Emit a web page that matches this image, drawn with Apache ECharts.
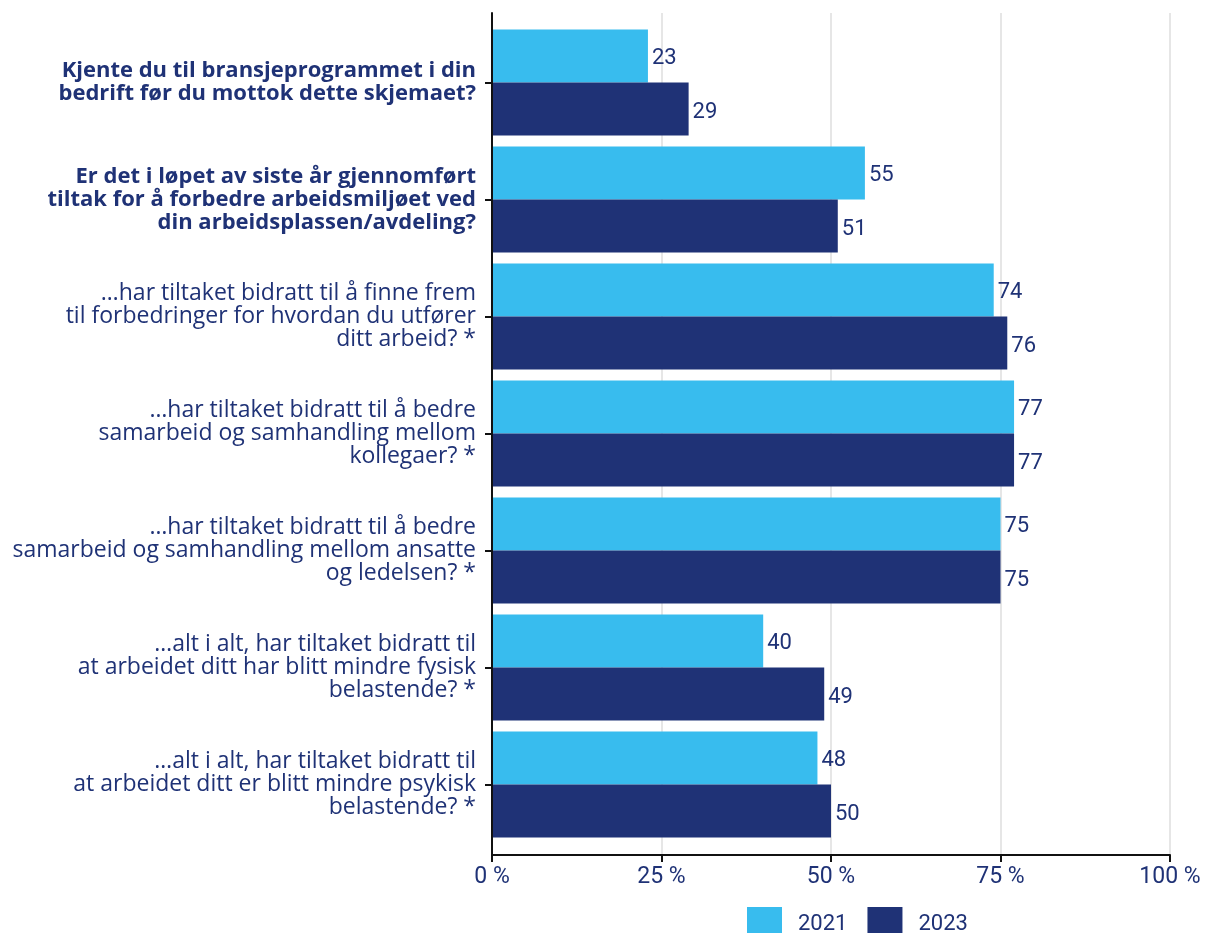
<!DOCTYPE html>
<html>
<head>
<meta charset="utf-8">
<script src="https://cdn.jsdelivr.net/npm/echarts@6/dist/echarts.min.js"></script>
<style>
  html, body { margin: 0; padding: 0; background: #fff; }
  #chart { width: 1205px; height: 933px; }
</style>
</head>
<body>
<div id="chart"></div>
<script>
const questions = [
  'Kjente du til bransjeprogrammet i din\nbedrift før du mottok dette skjemaet?',
  'Er det i løpet av siste år gjennomført\ntiltak for å forbedre arbeidsmiljøet ved\ndin arbeidsplassen/avdeling?',
  '…har tiltaket bidratt til å finne frem\ntil forbedringer for hvordan du utfører\nditt arbeid? *',
  '…har tiltaket bidratt til å bedre\nsamarbeid og samhandling mellom\nkollegaer? *',
  '…har tiltaket bidratt til å bedre\nsamarbeid og samhandling mellom ansatte\nog ledelsen? *',
  '…alt i alt, har tiltaket bidratt til\nat arbeidet ditt har blitt mindre fysisk\nbelastende? *',
  '…alt i alt, har tiltaket bidratt til\nat arbeidet ditt er blitt mindre psykisk\nbelastende? *'
]
// first two questions are printed in bold
const boldCount = 2
const values2021 = [23, 55, 74, 77, 75, 40, 48]
const values2023 = [29, 51, 76, 77, 75, 49, 50]
const years = ['2021', '2023']

const NAVY = '#1f3276'
const LIGHT = '#38bcee'
const FONT = '"Open Sans", sans-serif'
const NUM = 'Roboto, sans-serif'

const chart = echarts.init(document.getElementById('chart'))

const valueLabel = {
  show: true,
  position: 'right',
  distance: 4,
  offset: [0, 3],
  color: NAVY,
  fontFamily: NUM,
  fontSize: 22
}

const option = {
  animation: false,
  textStyle: { fontFamily: FONT, color: NAVY },
  legend: {
    data: years,
    left: 742,
    top: 902,
    itemWidth: 35,
    itemHeight: 35,
    itemGap: 20,
    icon: 'rect',
    textStyle: { color: NAVY, fontSize: 22, fontFamily: NUM, padding: [0, 0, 0, 11] }
  },
  grid: [
    // bars
    { left: 492, right: 35, top: 24, height: 819 },
    // frame: axis lines and grid lines
    { left: 492, right: 35, top: 13, height: 842 }
  ],
  xAxis: [
    { gridIndex: 0, type: 'value', min: 0, max: 100, show: false },
    {
      gridIndex: 1,
      type: 'value',
      min: 0,
      max: 100,
      interval: 25,
      axisLine: { show: true, lineStyle: { color: '#111', width: 2 } },
      axisTick: { show: true, length: 7, lineStyle: { color: '#111', width: 2 } },
      axisLabel: { formatter: '{value} %', color: NAVY, fontSize: 23, fontFamily: NUM, margin: 11 },
      splitLine: { show: true, lineStyle: { color: '#e6e6e6', width: 2 } }
    }
  ],
  yAxis: [
    {
      gridIndex: 0,
      type: 'category',
      inverse: true,
      data: questions,
      axisLine: { show: false },
      axisTick: { show: true, alignWithLabel: true, length: 7, lineStyle: { color: '#111', width: 2 } },
      axisLabel: {
        margin: 16,
        lineHeight: 23,
        formatter: function (value, index) {
          const style = index < boldCount ? 'b' : 'n'
          return value.split('\n').map(l => '{' + style + '|' + l + '}').join('\n')
        },
        rich: {
          b: { fontSize: 22, fontWeight: 'bold', fontFamily: FONT, color: NAVY, lineHeight: 23, align: 'right' },
          n: { fontSize: 23, fontFamily: FONT, color: NAVY, lineHeight: 23, align: 'right' }
        }
      }
    },
    {
      gridIndex: 1,
      type: 'value',
      min: 0,
      max: 1,
      z: 5,
      axisLine: { show: true, lineStyle: { color: '#111', width: 2 } },
      axisTick: { show: false },
      axisLabel: { show: false },
      splitLine: { show: false }
    }
  ],
  series: [
    {
      name: years[0],
      type: 'bar',
      xAxisIndex: 0,
      yAxisIndex: 0,
      data: values2021,
      barGap: '0%',
      barCategoryGap: '9.4%',
      itemStyle: { color: LIGHT },
      label: valueLabel
    },
    {
      name: years[1],
      type: 'bar',
      xAxisIndex: 0,
      yAxisIndex: 0,
      data: values2023,
      barGap: '0%',
      barCategoryGap: '9.4%',
      itemStyle: { color: NAVY },
      label: valueLabel
    }
  ]
}

chart.setOption(option)
</script>
</body>
</html>
